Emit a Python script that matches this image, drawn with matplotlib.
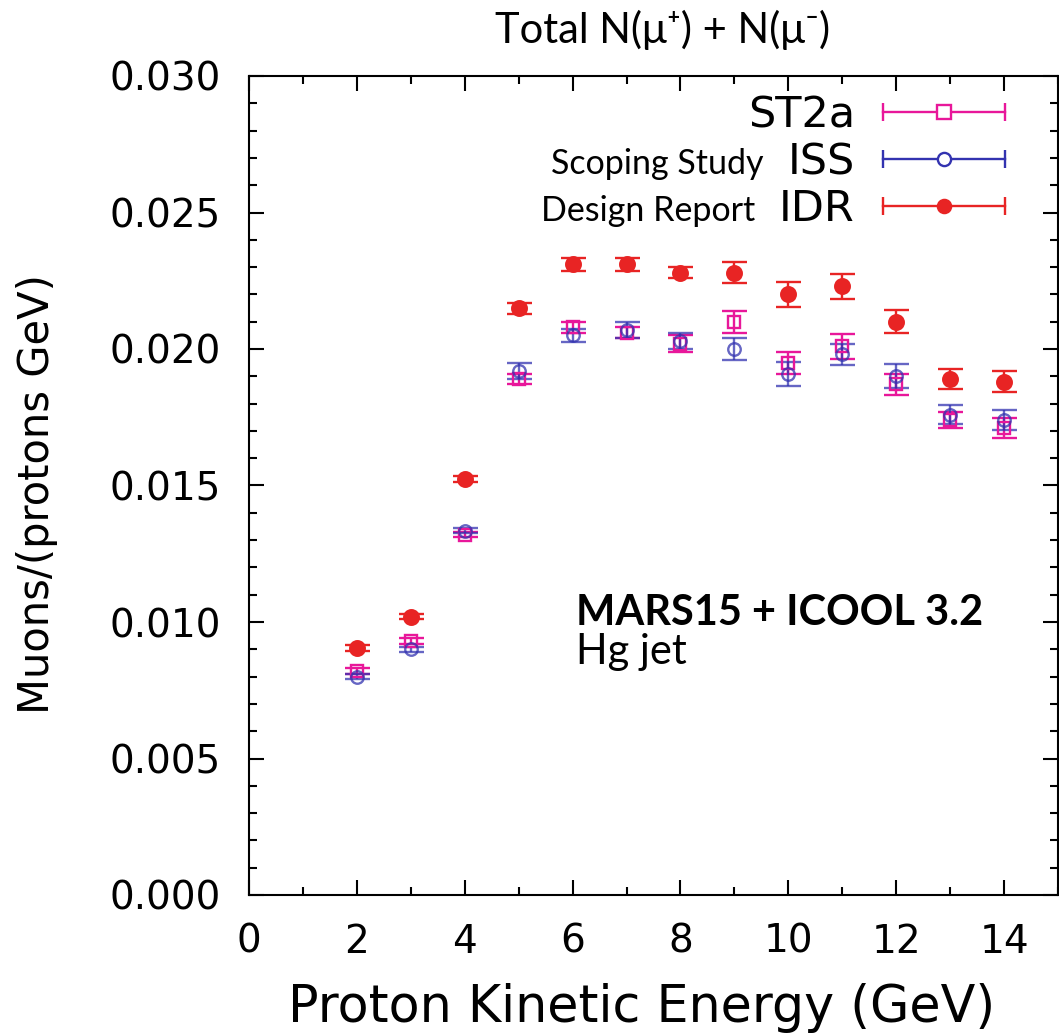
import numpy as np
import matplotlib
matplotlib.use('Agg')
import matplotlib.pyplot as plt
from matplotlib.lines import Line2D
from matplotlib.legend_handler import HandlerLine2D, HandlerTuple
from matplotlib.ticker import MultipleLocator, FormatStrFormatter

# data
energy = [2, 3, 4, 5, 6, 7, 8, 9, 10, 11, 12, 13, 14]

st2a = [0.0082, 0.0093, 0.0132, 0.0189, 0.0208, 0.0206, 0.0202,
        0.0210, 0.0195, 0.0201, 0.0187, 0.0174, 0.0171]
st2a_err = [0.0001, 0.0001, 0.0001, 0.0002, 0.0002, 0.0002, 0.0003,
            0.0004, 0.0004, 0.00045, 0.00037, 0.0003, 0.00037]

iss = [0.0080, 0.0090, 0.01335, 0.0192, 0.0205, 0.0207, 0.0203,
       0.0200, 0.0191, 0.0198, 0.0190, 0.0176, 0.0174]
iss_err = [0.0001, 0.0001, 0.0001, 0.0003, 0.00025, 0.0003, 0.0003,
           0.0004, 0.00044, 0.0004, 0.00044, 0.00035, 0.00035]

idr = [0.00905, 0.0102, 0.01524, 0.0215, 0.0231, 0.0231, 0.0228,
       0.0228, 0.0220, 0.0223, 0.0210, 0.0189, 0.0188]
idr_err = [0.0001, 0.0001, 0.0001, 0.0002, 0.00025, 0.00025, 0.0002,
           0.0004, 0.00046, 0.00046, 0.00042, 0.00038, 0.00038]

c_st2a = '#e8179a'
c_iss = '#3333b0'
c_idr = '#e82424'

plt.rcParams['font.family'] = ['DejaVu Sans']
calibri = ['Lato', 'DejaVu Sans']

fig = plt.figure(figsize=(10.59, 10.34), dpi=100)
ax = fig.add_axes([249 / 1059, 1 - 895 / 1034, 809 / 1059, 819 / 1034])

ax.errorbar(energy, st2a, yerr=st2a_err, fmt='s', color=c_st2a, mfc='none',
            ms=9, mew=1.7, elinewidth=1.7, capsize=9, capthick=1.7)
ax.errorbar(energy, iss, yerr=iss_err, fmt='o', color=c_iss, mfc='none',
            ms=9, mew=1.7, elinewidth=1.7, capsize=9, capthick=1.7, alpha=0.75)
ax.errorbar(energy, idr, yerr=idr_err, fmt='o', color=c_idr,
            ms=10.5, mew=1.7, elinewidth=1.7, capsize=9, capthick=1.7)

ax.set_xlim(0, 15)
ax.set_ylim(0, 0.030)
ax.xaxis.set_major_locator(MultipleLocator(2))
ax.xaxis.set_minor_locator(MultipleLocator(1))
ax.yaxis.set_major_locator(MultipleLocator(0.005))
ax.yaxis.set_minor_locator(MultipleLocator(0.001))
ax.yaxis.set_major_formatter(FormatStrFormatter('%.3f'))
ax.tick_params(which='both', direction='in', top=True, right=True,
               labelsize=28, pad=20, width=1.5)
ax.tick_params(which='major', length=11)
ax.tick_params(which='minor', length=6)
for s in ax.spines.values():
    s.set_linewidth(1.5)

ax.set_xlabel('Proton Kinetic Energy (GeV)', fontsize=36.5)
ax.set_ylabel('Muons/(protons GeV)', fontsize=30)
ax.xaxis.set_label_coords(0.485, -0.108)
ax.yaxis.set_label_coords(-0.236, 0.49)

# legend in gnuplot style: label, then a horizontal error bar sample
handles = []
center_pts = {}
for col, mk, face in [(c_st2a, 's', 'white'), (c_iss, 'o', 'white'), (c_idr, 'o', c_idr)]:
    bar = Line2D([], [], color=col, lw=1.7, marker='|', ms=13, mew=1.7)
    pt = Line2D([], [], color=col, ls='none', marker=mk, ms=9.5, mfc=face, mew=1.7)
    handles.append((bar, pt))
    center_pts[pt] = HandlerLine2D(numpoints=1)
hmap = {tuple: HandlerTuple(ndivide=1, pad=0)}
hmap.update(center_pts)
leg = ax.legend(handles, ['ST2a', 'ISS', 'IDR'], handler_map=hmap,
                loc='upper right', bbox_to_anchor=(0.9505, 0.978),
                markerfirst=False, frameon=False, fontsize=31, numpoints=2,
                handlelength=3.44, handletextpad=0.35, labelspacing=0.12,
                borderaxespad=0, borderpad=0)
leg_texts = leg.get_texts()
for i, extra in [(1, 'Scoping Study'), (2, 'Design Report')]:
    ax.annotate(extra, xy=(0, 0.22), xycoords=leg_texts[i], xytext=(-17, 0),
                textcoords='offset points', ha='right', va='baseline',
                fontsize=24.5, family=calibri, zorder=10)

ax.text(0.404, 0.33, 'MARS15 + ICOOL 3.2', transform=ax.transAxes,
        fontsize=30, fontweight='bold', family=calibri, va='baseline')
ax.text(0.404, 0.282, 'Hg jet', transform=ax.transAxes,
        fontsize=30, family=calibri, va='baseline')

fig.text(663 / 1059, 1 - 30 / 1034, 'Total N(μ⁺) + N(μ⁻)', ha='center', va='center',
         fontsize=30, family=calibri)

fig.savefig('out.png', dpi=100)
